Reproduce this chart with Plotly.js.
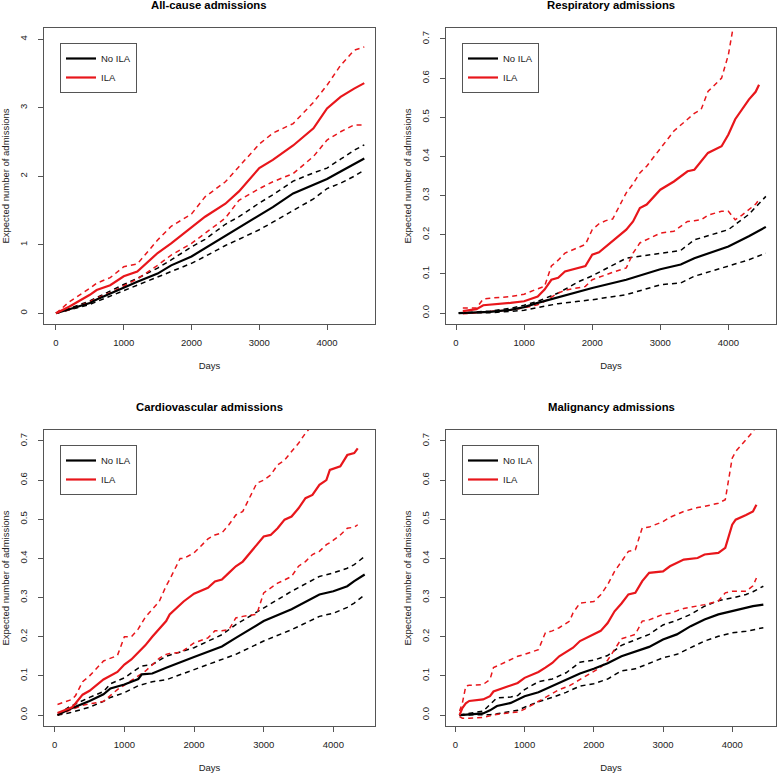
<!DOCTYPE html>
<html>
<head>
<meta charset="utf-8">
<script src="https://cdn.plot.ly/plotly-3.0.1.min.js"></script>
<style>
  html, body { margin: 0; padding: 0; background: #fff; }
  #chart { width: 778px; height: 773px; }
</style>
</head>
<body>
<div id="chart"></div>
<script>
// ---- data (days, expected number of admissions) ----

// All-cause
const allDays = [0, 200, 500, 600, 800, 1000, 1200, 1500, 1700, 2000, 2200, 2500, 2700, 3000, 3200, 3500, 3800, 4000, 4200, 4400, 4550];
const allNo = [0, 0.06, 0.15, 0.2, 0.29, 0.38, 0.46, 0.58, 0.7, 0.83, 0.95, 1.14, 1.25, 1.44, 1.55, 1.75, 1.87, 1.96, 2.07, 2.18, 2.26];
const allNoHi = [0, 0.07, 0.18, 0.23, 0.33, 0.42, 0.51, 0.66, 0.78, 0.97, 1.08, 1.3, 1.41, 1.61, 1.73, 1.93, 2.05, 2.12, 2.25, 2.38, 2.46];
const allNoLo = [0, 0.05, 0.13, 0.17, 0.25, 0.33, 0.41, 0.52, 0.61, 0.73, 0.83, 0.99, 1.08, 1.22, 1.33, 1.5, 1.67, 1.82, 1.9, 2.0, 2.09];
const allIla = [0, 0.1, 0.27, 0.34, 0.41, 0.54, 0.61, 0.88, 1.02, 1.25, 1.41, 1.6, 1.78, 2.12, 2.24, 2.45, 2.7, 2.99, 3.16, 3.28, 3.36];
const allIlaHi = [0, 0.17, 0.365, 0.44, 0.52, 0.68, 0.72, 1.07, 1.27, 1.45, 1.7, 1.92, 2.14, 2.47, 2.63, 2.77, 3.08, 3.33, 3.62, 3.84, 3.89];
const allIlaLo = [0, 0.05, 0.17, 0.22, 0.3, 0.4, 0.5, 0.7, 0.85, 1.02, 1.17, 1.39, 1.65, 1.82, 1.92, 2.04, 2.29, 2.53, 2.65, 2.75, 2.75];

// Respiratory
const resNoDays = [40, 300, 500, 800, 1000, 1200, 1500, 1800, 2000, 2500, 3000, 3300, 3500, 4000, 4300, 4550];
const resNo = [0, 0.001, 0.003, 0.008, 0.015, 0.026, 0.04, 0.055, 0.064, 0.085, 0.112, 0.124, 0.14, 0.17, 0.196, 0.22];
const resNoHi = [0, 0.002, 0.005, 0.012, 0.02, 0.03, 0.051, 0.08, 0.095, 0.14, 0.153, 0.16, 0.187, 0.213, 0.252, 0.298];
const resNoLo = [0, 0, 0.001, 0.004, 0.007, 0.014, 0.024, 0.03, 0.034, 0.047, 0.072, 0.077, 0.094, 0.12, 0.136, 0.153];
const resIlaDays = [100, 300, 400, 500, 800, 1000, 1200, 1300, 1400, 1500, 1600, 1900, 2000, 2100, 2200, 2300, 2500, 2600, 2700, 2800, 3000, 3200, 3400, 3500, 3600, 3700, 3900, 4000, 4100, 4200, 4300, 4400, 4450];
const resIla = [0.005, 0.01, 0.02, 0.021, 0.026, 0.03, 0.042, 0.06, 0.085, 0.09, 0.106, 0.12, 0.149, 0.155, 0.17, 0.185, 0.213, 0.234, 0.268, 0.277, 0.315, 0.336, 0.362, 0.366, 0.388, 0.409, 0.426, 0.456, 0.495, 0.52, 0.545, 0.565, 0.583];
const resIlaHi = [0.013, 0.013, 0.036, 0.038, 0.042, 0.048, 0.062, 0.068, 0.12, 0.135, 0.153, 0.175, 0.213, 0.228, 0.236, 0.24, 0.307, 0.33, 0.358, 0.375, 0.42, 0.465, 0.495, 0.51, 0.52, 0.566, 0.6, 0.66, 0.76, 0.84, 0.9, 0.95, 0.97];
const resIlaLo = [-0.002, 0, 0.002, 0.004, 0.008, 0.013, 0.021, 0.03, 0.04, 0.051, 0.058, 0.068, 0.085, 0.092, 0.098, 0.104, 0.115, 0.153, 0.179, 0.187, 0.204, 0.209, 0.234, 0.236, 0.238, 0.25, 0.26, 0.26, 0.238, 0.25, 0.264, 0.278, 0.29];

// Cardiovascular
const cvNoDays = [40, 200, 500, 700, 800, 1000, 1200, 1250, 1400, 1600, 2000, 2400, 2600, 3000, 3400, 3800, 4000, 4200, 4300, 4450];
const cvNo = [0, 0.014, 0.036, 0.053, 0.068, 0.078, 0.092, 0.104, 0.106, 0.121, 0.148, 0.175, 0.197, 0.24, 0.27, 0.308, 0.316, 0.329, 0.342, 0.359];
const cvNoHi = [0, 0.02, 0.045, 0.06, 0.08, 0.095, 0.12, 0.125, 0.129, 0.15, 0.172, 0.205, 0.231, 0.274, 0.316, 0.354, 0.363, 0.375, 0.384, 0.405];
const cvNoLo = [0, 0.005, 0.02, 0.035, 0.045, 0.057, 0.075, 0.078, 0.085, 0.09, 0.116, 0.142, 0.155, 0.189, 0.218, 0.252, 0.26, 0.275, 0.286, 0.307];
const cvIlaDays = [40, 250, 300, 400, 500, 700, 900, 1000, 1100, 1200, 1300, 1400, 1500, 1600, 1650, 1800, 1850, 2000, 2200, 2300, 2400, 2500, 2600, 2700, 2900, 3000, 3100, 3200, 3300, 3400, 3500, 3600, 3700, 3800, 3900, 3950, 4100, 4200, 4300, 4350];
const cvIla = [0.005, 0.02, 0.03, 0.052, 0.062, 0.091, 0.11, 0.129, 0.142, 0.16, 0.178, 0.2, 0.22, 0.24, 0.257, 0.28, 0.29, 0.31, 0.325, 0.341, 0.346, 0.363, 0.38, 0.392, 0.435, 0.456, 0.46, 0.477, 0.499, 0.507, 0.528, 0.554, 0.562, 0.588, 0.6, 0.626, 0.635, 0.664, 0.669, 0.681];
const cvIlaHi = [0.027, 0.04, 0.05, 0.085, 0.1, 0.138, 0.152, 0.2, 0.2, 0.22, 0.25, 0.27, 0.29, 0.33, 0.346, 0.4, 0.4, 0.414, 0.45, 0.46, 0.465, 0.486, 0.511, 0.52, 0.592, 0.6, 0.613, 0.639, 0.651, 0.673, 0.694, 0.72, 0.74, 0.76, 0.77, 0.78, 0.8, 0.82, 0.84, 0.86];
const cvIlaLo = [0, 0.013, 0.018, 0.025, 0.028, 0.035, 0.065, 0.077, 0.088, 0.1, 0.112, 0.128, 0.145, 0.155, 0.157, 0.16, 0.165, 0.184, 0.197, 0.215, 0.215, 0.218, 0.248, 0.252, 0.257, 0.312, 0.325, 0.337, 0.345, 0.354, 0.38, 0.392, 0.41, 0.418, 0.435, 0.44, 0.46, 0.477, 0.48, 0.486];

// Malignancy
const malNoDays = [60, 200, 400, 500, 600, 800, 900, 1000, 1200, 1400, 1600, 1800, 2000, 2200, 2400, 2600, 2800, 3000, 3200, 3400, 3600, 3800, 4000, 4200, 4300, 4450];
const malNo = [0, 0.002, 0.004, 0.012, 0.023, 0.031, 0.04, 0.048, 0.058, 0.074, 0.091, 0.106, 0.118, 0.132, 0.15, 0.163, 0.174, 0.193, 0.206, 0.227, 0.244, 0.257, 0.265, 0.274, 0.278, 0.282];
const malNoHi = [0, 0.004, 0.01, 0.027, 0.044, 0.046, 0.05, 0.065, 0.085, 0.092, 0.108, 0.135, 0.14, 0.152, 0.178, 0.192, 0.206, 0.23, 0.242, 0.257, 0.278, 0.292, 0.299, 0.308, 0.315, 0.329];
const malNoLo = [0, 0, 0, 0.001, 0.003, 0.008, 0.012, 0.02, 0.034, 0.045, 0.058, 0.074, 0.08, 0.092, 0.113, 0.118, 0.133, 0.146, 0.155, 0.172, 0.189, 0.201, 0.21, 0.214, 0.218, 0.223];
const malIlaDays = [60, 100, 150, 200, 400, 500, 550, 700, 900, 1000, 1200, 1300, 1400, 1500, 1650, 1700, 1800, 2000, 2100, 2200, 2300, 2400, 2500, 2600, 2700, 2800, 3000, 3100, 3300, 3500, 3600, 3800, 3900, 4000, 4050, 4200, 4300, 4350];
const malIla = [0, 0.018, 0.03, 0.036, 0.04, 0.048, 0.06, 0.07, 0.082, 0.095, 0.11, 0.121, 0.133, 0.15, 0.165, 0.172, 0.189, 0.205, 0.215, 0.235, 0.265, 0.285, 0.308, 0.312, 0.342, 0.363, 0.367, 0.38, 0.397, 0.401, 0.41, 0.414, 0.427, 0.486, 0.499, 0.511, 0.52, 0.537];
const malIlaHi = [0.01, 0.03, 0.074, 0.076, 0.078, 0.091, 0.121, 0.133, 0.15, 0.155, 0.167, 0.21, 0.215, 0.223, 0.24, 0.261, 0.286, 0.29, 0.307, 0.333, 0.367, 0.392, 0.418, 0.422, 0.478, 0.48, 0.494, 0.505, 0.52, 0.53, 0.533, 0.541, 0.55, 0.656, 0.673, 0.703, 0.724, 0.74];
const malIlaLo = [-0.004, -0.008, -0.008, -0.008, -0.006, -0.002, 0, 0.004, 0.008, 0.015, 0.035, 0.045, 0.055, 0.065, 0.075, 0.08, 0.092, 0.11, 0.122, 0.14, 0.167, 0.195, 0.2, 0.206, 0.24, 0.243, 0.257, 0.26, 0.272, 0.278, 0.282, 0.291, 0.312, 0.316, 0.316, 0.316, 0.33, 0.35];

const panelTitles = ['All-cause admissions', 'Respiratory admissions', 'Cardiovascular admissions', 'Malignancy admissions'];
const seriesNames = ['No ILA', 'ILA'];
const xTicks = [0, 1000, 2000, 3000, 4000];
const yTicksAll = [0, 1, 2, 3, 4];
const yTicksSmall = [0, 0.1, 0.2, 0.3, 0.4, 0.5, 0.6, 0.7];
const yTickTextSmall = ['0.0', '0.1', '0.2', '0.3', '0.4', '0.5', '0.6', '0.7'];

const RED = '#e8161b';
const BLACK = '#000000';
const FONT = 'Liberation Sans, Arial, Helvetica, sans-serif';

const panels = [
    {days: allDays, no: allNo, noHi: allNoHi, noLo: allNoLo,
     ilaDays: allDays, ila: allIla, ilaHi: allIlaHi, ilaLo: allIlaLo},
    {days: resNoDays, no: resNo, noHi: resNoHi, noLo: resNoLo,
     ilaDays: resIlaDays, ila: resIla, ilaHi: resIlaHi, ilaLo: resIlaLo},
    {days: cvNoDays, no: cvNo, noHi: cvNoHi, noLo: cvNoLo,
     ilaDays: cvIlaDays, ila: cvIla, ilaHi: cvIlaHi, ilaLo: cvIlaLo},
    {days: malNoDays, no: malNo, noHi: malNoHi, noLo: malNoLo,
     ilaDays: malIlaDays, ila: malIla, ilaHi: malIlaHi, ilaLo: malIlaLo}
];

// plot regions in pixels [left, right, top, bottom]
const W = 778, H = 773;
const boxes = [
    [44, 375, 28, 324],
    [446, 776, 28, 324],
    [44, 375, 430, 726],
    [446, 776, 430, 726]
];
const xRanges = [[-177, 4708], [-147, 4699], [-154, 4598], [-136, 4633]];
const yRanges = [[-0.156, 4.165], [-0.028, 0.728], [-0.028, 0.728], [-0.028, 0.728]];

const traces = [];
panels.forEach((p, i) => {
    const ax = i === 0 ? '' : String(i + 1);
    const lg = i === 0 ? 'legend' : 'legend' + (i + 1);
    const add = (x, y, color, width, dash, name, show) => {
        traces.push({
            x: x, y: y, type: 'scatter', mode: 'lines',
            xaxis: 'x' + ax, yaxis: 'y' + ax,
            name: name, legend: lg, showlegend: show,
            line: {color: color, width: width, dash: dash},
            hoverinfo: 'skip'
        });
    };
    add(p.days, p.noHi, BLACK, 1.5, '5px,4px', seriesNames[0], false);
    add(p.days, p.noLo, BLACK, 1.5, '5px,4px', seriesNames[0], false);
    add(p.ilaDays, p.ilaHi, RED, 1.5, '5px,4px', seriesNames[1], false);
    add(p.ilaDays, p.ilaLo, RED, 1.5, '5px,4px', seriesNames[1], false);
    add(p.days, p.no, BLACK, 2.2, 'solid', seriesNames[0], true);
    add(p.ilaDays, p.ila, RED, 2.2, 'solid', seriesNames[1], true);
});

const layout = {
    width: W, height: H,
    margin: {l: 0, r: 0, t: 0, b: 0},
    paper_bgcolor: '#fff', plot_bgcolor: '#fff',
    font: {family: FONT, size: 9.5, color: '#222'},
    annotations: []
};

boxes.forEach((b, i) => {
    const ax = i === 0 ? '' : String(i + 1);
    const lg = i === 0 ? 'legend' : 'legend' + (i + 1);
    const x0 = b[0] / W, x1 = b[1] / W;
    const y0 = 1 - b[3] / H, y1 = 1 - b[2] / H;
    const axisCommon = {
        showgrid: false, zeroline: false,
        showline: true, mirror: true, linecolor: '#555', linewidth: 1,
        ticks: 'outside', ticklen: 5, tickcolor: '#555', tickwidth: 1,
        tickfont: {family: FONT, size: 9.5, color: '#222'},
        fixedrange: true
    };
    layout['xaxis' + ax] = Object.assign({}, axisCommon, {
        domain: [x0, x1], anchor: 'y' + ax,
        range: xRanges[i], tickvals: xTicks,
        ticklabelstandoff: 5,
        title: {text: 'Days', font: {family: FONT, size: 9.5, color: '#222'}, standoff: 14}
    });
    layout['yaxis' + ax] = Object.assign({}, axisCommon, {
        domain: [y0, y1], anchor: 'x' + ax,
        range: yRanges[i],
        tickvals: i === 0 ? yTicksAll : yTicksSmall,
        ticktext: i === 0 ? yTicksAll.map(String) : yTickTextSmall,
        tickangle: -90,
        ticklabelstandoff: 7,
        title: {text: 'Expected number of admissions', font: {family: FONT, size: 9.5, color: '#222'}, standoff: 6}
    });
    layout[lg] = {
        x: (b[0] + 16) / W, y: 1 - (b[2] + 15) / H,
        xanchor: 'left', yanchor: 'top',
        xref: 'paper', yref: 'paper',
        bgcolor: '#fff', bordercolor: '#555', borderwidth: 1,
        font: {family: FONT, size: 9.5, color: '#222'},
        tracegroupgap: 0, itemwidth: 30
    };
    layout.annotations.push({
        text: '<b>' + panelTitles[i] + '</b>',
        xref: 'paper', yref: 'paper',
        x: (x0 + x1) / 2, y: 1 - (b[2] - 23) / H,
        xanchor: 'center', yanchor: 'middle', showarrow: false,
        font: {family: FONT, size: 11.3, color: '#000'}
    });
});

Plotly.newPlot('chart', traces, layout, {displayModeBar: false, staticPlot: true});
</script>
</body>
</html>
